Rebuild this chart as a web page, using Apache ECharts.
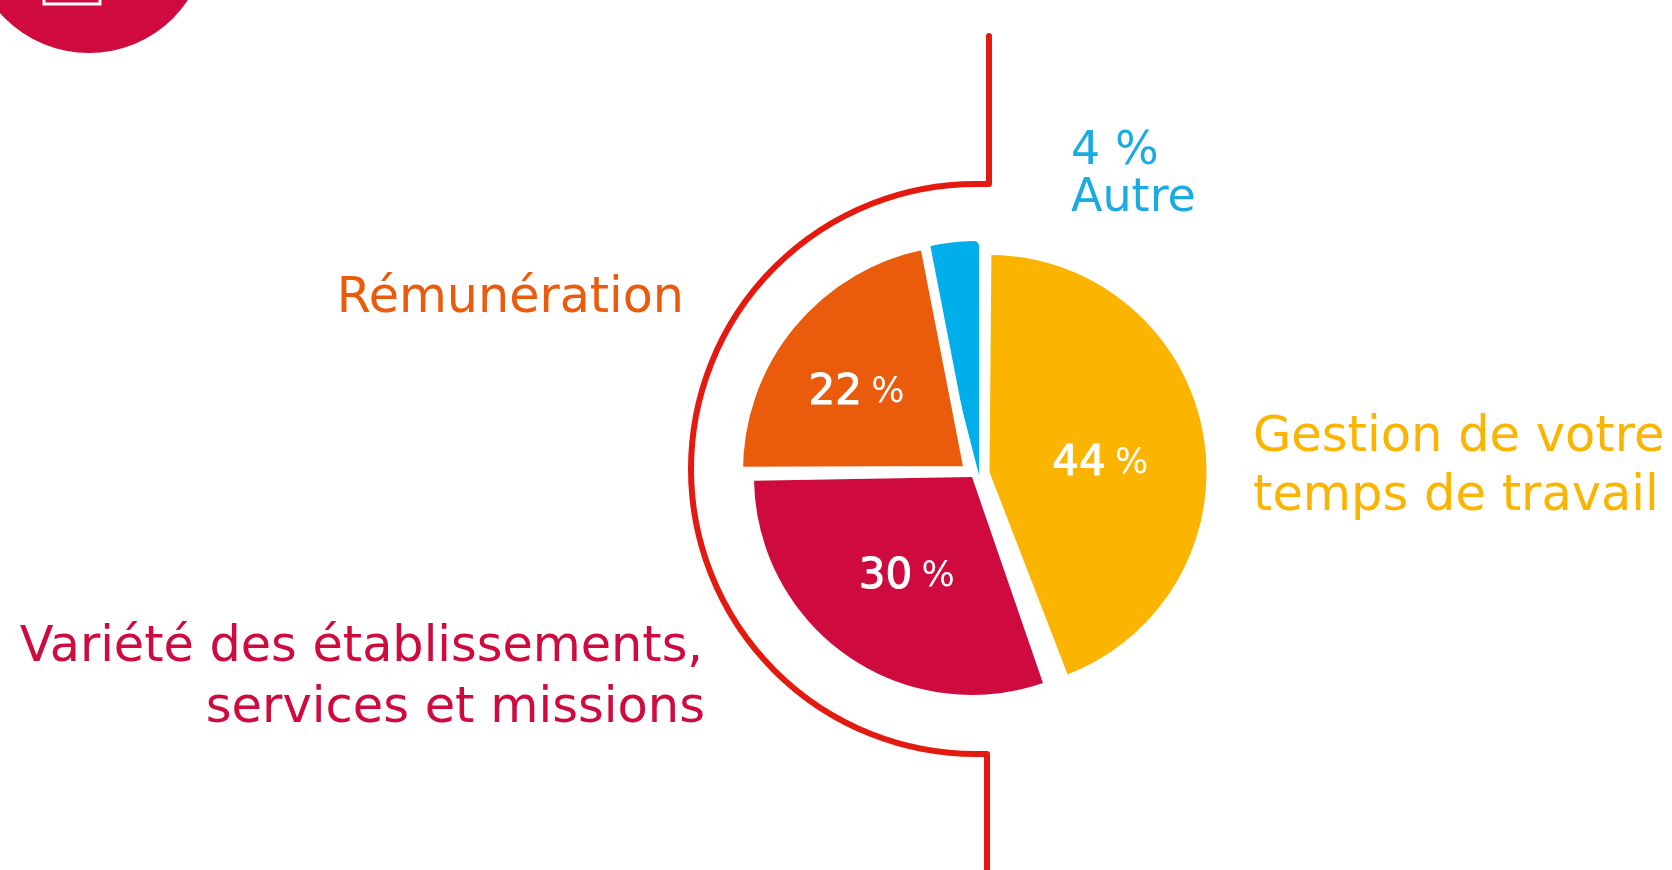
<!DOCTYPE html>
<html>
<head>
<meta charset="utf-8">
<style>
  html, body { margin: 0; padding: 0; background: #fff; }
  #chart { width: 1672px; height: 870px; }
</style>
<script src="https://cdn.jsdelivr.net/npm/echarts@6/dist/echarts.min.js"></script>
</head>
<body>
<div id="chart"></div>
<script>
  var categories = ['Gestion de votre temps de travail', 'Variété des établissements, services et missions', 'Rémunération', 'Autre'];
  var values = [44, 30, 22, 4];
  var colors = ['#fbb500', '#cf0a3e', '#ea5b0c', '#00aeea'];

  // each slice is pulled out by its own amount, so each gets its own pie
  var centers = [[989.5, 472], [972, 477], [969, 471], [979, 475]];
  var radii = [217, 218, 231, 234];
  var startAngles = [89.5, 87.4, 86.6, 90];
  var labelOffsets = [[1, 12], [-1, 8], [-21, -2.5], [0, 0]];
  // white edge of the orange slice cuts the gap next to the blue one
  var borderWidths = [0, 0, 10, 0];
  var layers = [2, 2, 2, 1];

  var chart = echarts.init(document.getElementById('chart'));

  var series = categories.map(function (name, k) {
    return {
      type: 'pie',
      silent: true,
      animation: false,
      clockwise: true,
      avoidLabelOverlap: false,
      z: layers[k],
      center: centers[k],
      radius: radii[k],
      startAngle: startAngles[k],
      labelLine: { show: false },
      data: categories.map(function (c, i) {
        var mine = i === k;
        return {
          name: c,
          value: values[i],
          itemStyle: {
            color: mine ? colors[i] : 'transparent',
            borderColor: mine ? '#fff' : 'transparent',
            borderWidth: mine ? borderWidths[i] : 0,
            borderRadius: mine && i === 3 ? 5 : 0
          },
          label: {
            show: mine && i !== 3,
            position: 'inside',
            offset: labelOffsets[k],
            formatter: '{n|' + values[i] + '} {p|%}',
            rich: {
              n: { fontFamily: 'DejaVu Sans', fontSize: 42, fontWeight: 500, color: '#fff', textBorderColor: '#fff', textBorderWidth: 1 },
              p: { fontFamily: 'DejaVu Sans', fontSize: 35, color: '#fff', padding: [0, 0, 0, 6] }
            }
          }
        };
      })
    };
  });

  function text(str, x, y, align, size, color) {
    return {
      type: 'text',
      x: x,
      y: y,
      style: { text: str, fill: color, font: size + 'px "DejaVu Sans"', textAlign: align, textVerticalAlign: 'middle' }
    };
  }

  var graphics = [
    // corner badge cut by the top edge
    { type: 'circle', shape: { cx: 89, cy: -66, r: 119 }, style: { fill: '#cf0a3e' } },
    { type: 'rect', shape: { x: 44, y: -20, width: 56, height: 24 }, style: { fill: 'none', stroke: '#fff', lineWidth: 3 } },
    // red bracket around the pie
    { type: 'polyline', shape: { points: [[989, 36], [989, 184], [976, 184]] }, style: { fill: 'none', stroke: '#e4190f', lineWidth: 6, lineCap: 'round', lineJoin: 'round' } },
    { type: 'arc', shape: { cx: 976, cy: 469, r: 285, startAngle: -Math.PI / 2, endAngle: Math.PI / 2, clockwise: false }, style: { fill: 'none', stroke: '#e4190f', lineWidth: 6 } },
    { type: 'polyline', shape: { points: [[976, 754], [987, 754], [987, 880]] }, style: { fill: 'none', stroke: '#e4190f', lineWidth: 6, lineJoin: 'round' } },
    text('4 %', 1071, 152, 'left', 46, '#1aabe2'),
    text('Autre', 1071, 199, 'left', 46, '#1aabe2'),
    text('Rémunération', 684, 299, 'right', 49.2, '#ea5b0c'),
    text('Gestion de votre', 1253, 438, 'left', 49.5, '#fbb500'),
    text('temps de travail', 1253, 497, 'left', 49.5, '#fbb500'),
    text('Variété des établissements,', 703, 648, 'right', 49.3, '#cf0a3e'),
    text('services et missions', 705, 709, 'right', 49.5, '#cf0a3e')
  ];

  chart.setOption({
    backgroundColor: '#fff',
    tooltip: { show: false },
    legend: { show: false },
    series: series,
    graphic: graphics
  });
</script>
</body>
</html>
